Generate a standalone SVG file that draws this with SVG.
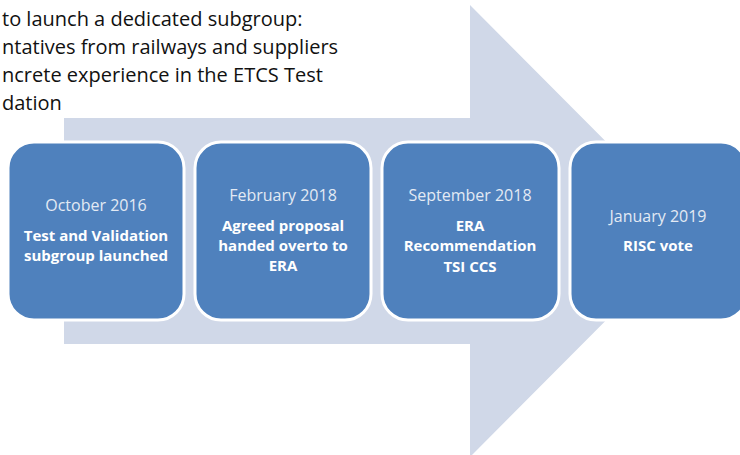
<svg xmlns="http://www.w3.org/2000/svg" width="740" height="455" viewBox="0 0 740 455">
<style>
.box{fill:#4f81bd;stroke:#ffffff;stroke-width:3}
.date{font-family:"Open Sans","Noto Sans",sans-serif;font-size:16px;fill:#e3eaf4;text-anchor:middle}
.bold{font-family:"Open Sans","Noto Sans",sans-serif;font-size:15px;font-weight:bold;fill:#ffffff;text-anchor:middle}
.note{font-family:"Open Sans","Noto Sans",sans-serif;font-size:20px;fill:#111111}
</style>
<rect width="740" height="455" fill="#ffffff"/>
<g id="arrow">
<polygon points="64,118 470,118 470,5 695,231 470,457 470,344 64,344" fill="#d0d8e8"/>
</g>
<g id="note">
<text class="note" x="2" y="26">to launch a dedicated subgroup:</text>
<text class="note" x="2" y="54">ntatives from railways and suppliers</text>
<text class="note" x="2" y="82">ncrete experience in the ETCS Test</text>
<text class="note" x="2" y="110">dation</text>
</g>
<g id="connectors"></g>
<g id="node1">
<rect class="box" x="8" y="142" width="176" height="178" rx="26"/>
<text class="date" x="96" y="211">October 2016</text>
<text class="bold" x="96" y="241">Test and Validation</text>
<text class="bold" x="96" y="261">subgroup launched</text>
</g>
<g id="node2">
<rect class="box" x="195" y="142" width="176" height="178" rx="26"/>
<text class="date" x="283" y="201">February 2018</text>
<text class="bold" x="283" y="231">Agreed proposal</text>
<text class="bold" x="283" y="251">handed overto to</text>
<text class="bold" x="283" y="271">ERA</text>
</g>
<g id="node3">
<rect class="box" x="382" y="142" width="177" height="178" rx="26"/>
<text class="date" x="470" y="201">September 2018</text>
<text class="bold" x="470" y="231">ERA</text>
<text class="bold" x="470" y="251">Recommendation</text>
<text class="bold" x="470" y="272">TSI CCS</text>
</g>
<g id="node4">
<rect class="box" x="570" y="142" width="177" height="178" rx="26"/>
<text class="date" x="658" y="222">January 2019</text>
<text class="bold" x="658" y="251">RISC vote</text>
</g>
</svg>
